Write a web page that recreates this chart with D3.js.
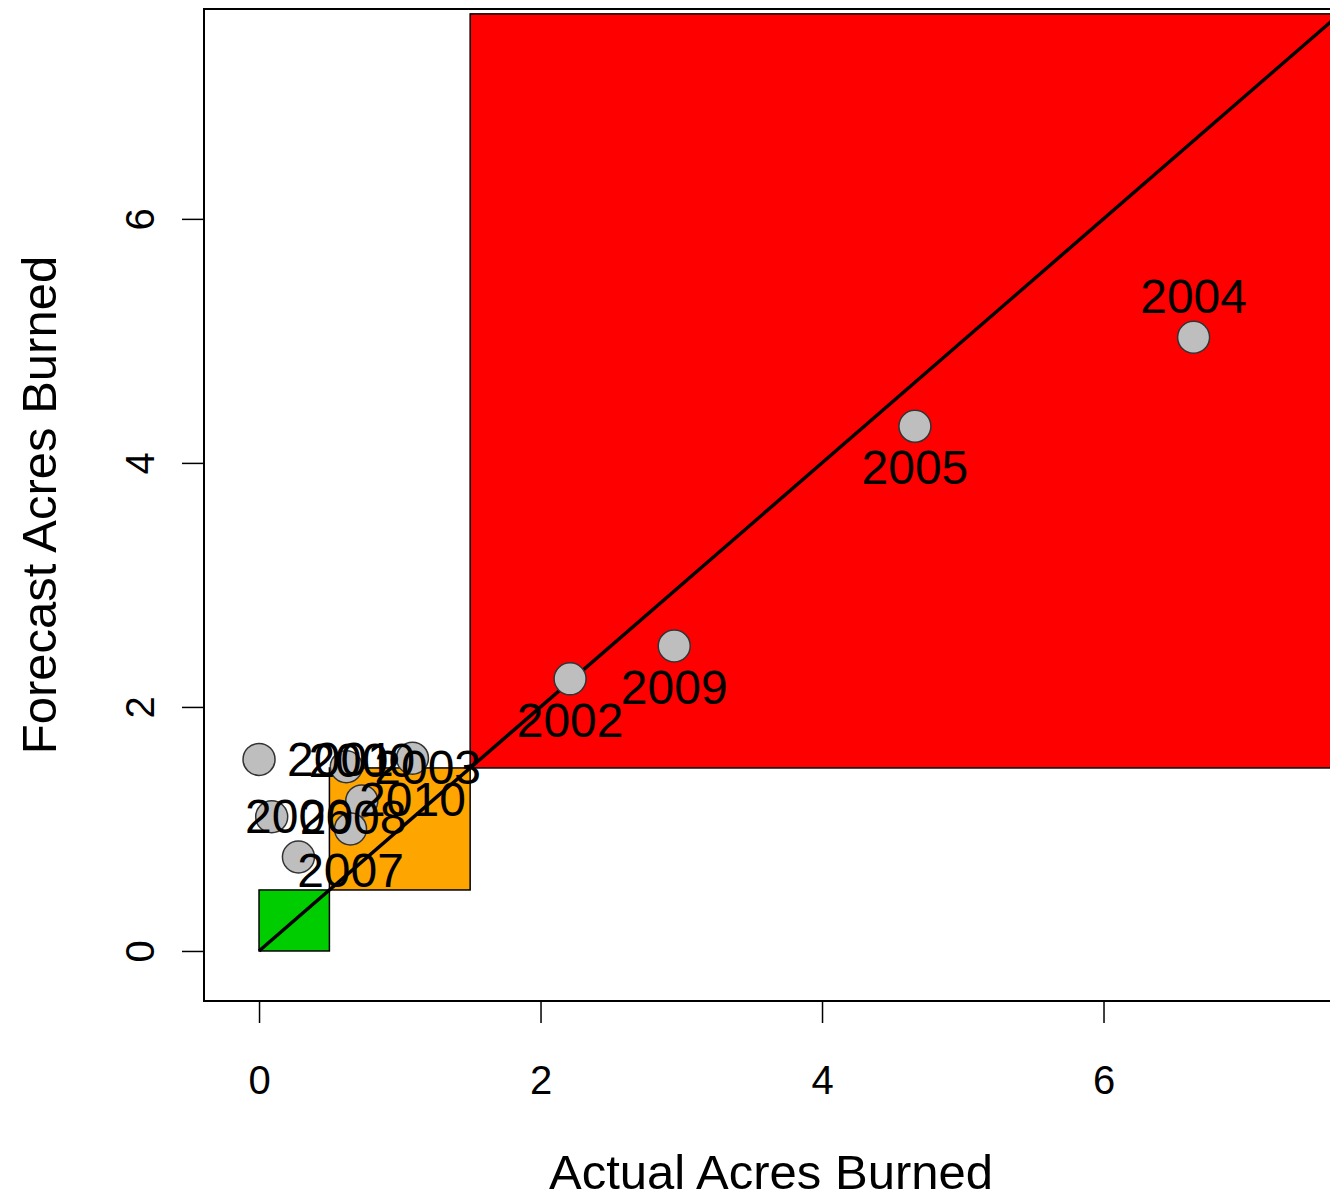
<!DOCTYPE html>
<html>
<head>
<meta charset="utf-8">
<script src="https://cdn.jsdelivr.net/npm/d3@7"></script>
<style>
  body { margin: 0; background: #fff; }
  svg { display: block; font-family: "Liberation Sans", Arial, sans-serif; }
</style>
</head>
<body>
<svg id="chart" width="1330" height="1196"></svg>
<script>
// data
var years    = [2000, 2001, 2002, 2003, 2004, 2005, 2006, 2007, 2008, 2009, 2010];
var actual   = [0.73, 0.00, 2.21, 0.62, 6.64, 4.66, 0.28, 0.65, 0.09, 2.95, 1.09];
var forecast = [1.23, 1.57, 2.23, 1.51, 5.03, 4.30, 0.77, 1.00, 1.10, 2.50, 1.58];
// severity zones (low/high bounds on both axes)
var zoneLo = [0, 0.5, 1.5];
var zoneHi = [0.5, 1.5, 7.68];
var xTicks = [0, 2, 4, 6];
var yTicks = [0, 2, 4, 6];

// R style text pos: 1 below, 3 above, 4 right
var labelSide = {2000: 3, 2001: 4, 2002: 1, 2003: 4, 2004: 3, 2005: 1,
                 2006: 3, 2007: 1, 2008: 4, 2009: 1, 2010: 1};
var zoneFill = ["#00cd00", "#ffa500", "#ff0000"];

var svg = d3.select("#chart");

var boxL = 204, boxR = 1338, boxT = 9, boxB = 1001;
var x = d3.scaleLinear().domain([-0.391, 7.666]).range([boxL, boxR]);
var y = d3.scaleLinear().domain([-0.41, 7.72]).range([boxB, boxT]);

svg.append("clipPath").attr("id", "plotclip")
  .append("rect")
  .attr("x", boxL).attr("y", boxT)
  .attr("width", boxR - boxL).attr("height", boxB - boxT);

var plot = svg.append("g").attr("clip-path", "url(#plotclip)");

// zones
plot.selectAll("rect.zone")
  .data(zoneLo)
  .enter().append("rect")
  .attr("class", "zone")
  .attr("x", function(d){ return x(d); })
  .attr("y", function(d, i){ return y(zoneHi[i]); })
  .attr("width", function(d, i){ return x(zoneHi[i]) - x(d); })
  .attr("height", function(d, i){ return y(d) - y(zoneHi[i]); })
  .attr("fill", function(d, i){ return zoneFill[i]; })
  .attr("stroke", "#000")
  .attr("stroke-width", 1.5);

// 1:1 line
plot.append("line")
  .attr("x1", x(0)).attr("y1", y(0))
  .attr("x2", x(zoneHi[2])).attr("y2", y(zoneHi[2]))
  .attr("stroke", "#000")
  .attr("stroke-width", 3.5);

// points
plot.selectAll("circle.pt")
  .data(years)
  .enter().append("circle")
  .attr("class", "pt")
  .attr("cx", function(d, i){ return x(actual[i]); })
  .attr("cy", function(d, i){ return y(forecast[i]); })
  .attr("r", 16)
  .attr("fill", "#bebebe")
  .attr("stroke", "#333")
  .attr("stroke-width", 1.5);

// year labels
plot.selectAll("text.lab")
  .data(years)
  .enter().append("text")
  .attr("class", "lab")
  .attr("x", function(d, i){
      var px = x(actual[i]);
      return labelSide[d] == 4 ? px + 28 : px;
  })
  .attr("y", function(d, i){
      var py = y(forecast[i]);
      if(labelSide[d] == 1) return py + 58;
      if(labelSide[d] == 3) return py - 24;
      return py + 17;
  })
  .attr("text-anchor", function(d){ return labelSide[d] == 4 ? "start" : "middle"; })
  .attr("font-size", 48)
  .attr("fill", "#000")
  .text(function(d){ return d; });

// box
svg.append("rect")
  .attr("x", boxL).attr("y", boxT)
  .attr("width", boxR - boxL).attr("height", boxB - boxT)
  .attr("fill", "none")
  .attr("stroke", "#000")
  .attr("stroke-width", 2);

// axes
var xAxis = svg.append("g")
  .attr("transform", "translate(0," + boxB + ")")
  .call(d3.axisBottom(x).tickValues(xTicks).tickSize(22).tickFormat(d3.format("d")));
xAxis.select(".domain").remove();
xAxis.selectAll(".tick line").attr("stroke", "#000").attr("stroke-width", 1.5);
xAxis.selectAll(".tick text")
  .attr("y", 93).attr("dy", 0)
  .attr("font-size", 40)
  .attr("font-family", "Liberation Sans, Arial, sans-serif")
  .attr("fill", "#000");

var yAxis = svg.append("g")
  .attr("transform", "translate(" + boxL + ",0)")
  .call(d3.axisLeft(y).tickValues(yTicks).tickSize(22).tickFormat(d3.format("d")));
yAxis.select(".domain").remove();
yAxis.selectAll(".tick line").attr("stroke", "#000").attr("stroke-width", 1.5);
yAxis.selectAll(".tick text")
  .attr("x", null)
  .attr("dy", "0.36em")
  .attr("text-anchor", "middle")
  .attr("transform", "translate(-64,0) rotate(-90)")
  .attr("font-size", 40)
  .attr("font-family", "Liberation Sans, Arial, sans-serif")
  .attr("fill", "#000");

// axis titles
svg.append("text")
  .attr("x", (boxL + boxR) / 2)
  .attr("y", 1189)
  .attr("text-anchor", "middle")
  .attr("font-size", 49)
  .text("Actual Acres Burned");

svg.append("text")
  .attr("transform", "translate(56," + (boxT + boxB) / 2 + ") rotate(-90)")
  .attr("text-anchor", "middle")
  .attr("font-size", 49)
  .text("Forecast Acres Burned");
</script>
</body>
</html>
